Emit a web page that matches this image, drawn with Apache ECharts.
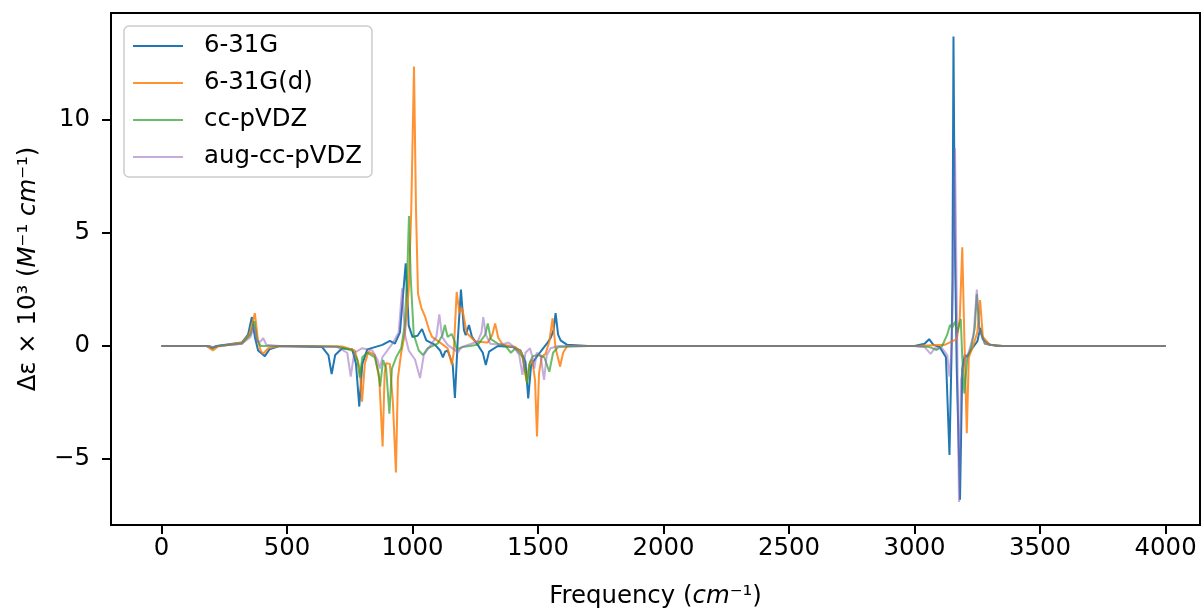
<!DOCTYPE html>
<html>
<head>
<meta charset="utf-8">
<script src="https://cdn.jsdelivr.net/npm/echarts@6/dist/echarts.min.js"></script>
<style>
  html, body { margin: 0; padding: 0; background: #fff; }
  #container { width: 1202px; height: 611px; }
</style>
</head>
<body>
<div id="container"></div>
<script>
// series names (legend)
var seriesNames = ['6-31G', '6-31G(d)', 'cc-pVDZ', 'aug-cc-pVDZ'];

// tick values
var xTicks = [0, 500, 1000, 1500, 2000, 2500, 3000, 3500, 4000];
var yTicks = [-5, 0, 5, 10];

// [frequency, delta eps] points
var basis631G = [
    [0, 0], [180, 0], [200, -0.1], [220, 0], [320, 0.15], [345, 0.5], [360, 1.28], [372, 0.4], [385, -0.2],
    [412, -0.45], [430, -0.15], [470, 0], [640, -0.05], [665, -0.4], [678, -1.24], [692, -0.4], [720, -0.1],
    [760, -0.15], [775, -0.8], [788, -2.68], [800, -0.8], [820, -0.15], [880, 0.05], [910, 0.23], [930, 0.1],
    [950, 0.6], [973, 3.66], [985, 0.9], [1000, 0.4], [1020, 0.45], [1038, 0.75], [1055, 0.25], [1090, 0.05],
    [1110, -0.2], [1121, -0.5], [1130, -0.25], [1140, -0.2], [1160, -0.8], [1169, -2.3], [1180, 0.2],
    [1193, 2.5], [1205, 0.7], [1212, 0.48], [1225, 0.93], [1237, 0.4], [1260, 0.05], [1280, -0.3],
    [1292, -0.84], [1305, -0.25], [1340, 0], [1400, -0.05], [1430, -0.2], [1450, -0.7], [1461, -2.32],
    [1472, -0.9], [1481, -0.7], [1488, -0.75], [1500, -0.4], [1515, -0.18], [1535, 0.1], [1550, 0.35],
    [1562, 0.7], [1570, 1.45], [1580, 0.5], [1590, 0.25], [1616, 0.05], [1700, 0], [3000, 0], [3040, 0.1],
    [3058, 0.3], [3075, 0.05], [3100, -0.05], [3125, -0.5], [3139, -4.82], [3147, -0.5], [3151, 3],
    [3155, 13.69], [3160, 5], [3168, -1], [3181, -6.8], [3190, -1], [3200, -0.4], [3210, -0.47], [3230, -0.1],
    [3250, 0.2], [3262, 0.8], [3272, 0.3], [3300, 0.05], [3350, 0], [4000, 0]
];

var basis631Gd = [
    [0, 0], [180, 0], [205, -0.2], [225, -0.02], [320, 0.15], [350, 0.5], [372, 1.45], [385, 0.2], [395, -0.2],
    [405, -0.35], [425, -0.1], [470, 0], [720, -0.02], [770, -0.2], [790, -1.0], [799, -2.46], [810, -0.8],
    [824, -0.25], [850, -0.4], [868, -1.5], [881, -4.45], [889, -1.2], [895, -0.76], [910, -0.8], [922, -2.5],
    [934, -5.6], [942, -1.4], [955, -0.3], [970, 0.57], [985, 2.5], [995, 6], [1006, 12.36], [1014, 6],
    [1022, 2.3], [1035, 1.7], [1050, 1.3], [1065, 0.75], [1078, 0.4], [1110, 0.15], [1140, -0.1],
    [1157, -0.84], [1164, -0.3], [1176, 2.39], [1187, 1.46], [1198, 1.68], [1216, 0.57], [1250, 0.2],
    [1300, 0.15], [1318, 0.5], [1329, 1.0], [1342, 0.35], [1360, 0.05], [1410, -0.05], [1435, -0.3],
    [1455, -1.6], [1465, -0.8], [1477, -0.62], [1488, -1.5], [1496, -4.0], [1504, -1.2], [1515, -0.47],
    [1530, -0.35], [1545, 0.2], [1558, 1.22], [1570, -0.1], [1588, -0.91], [1600, -0.3], [1616, 0],
    [1700, 0], [3000, 0], [3120, 0.05], [3168, 0.3], [3180, 1.2], [3190, 4.37], [3198, 0.5], [3208, -3.86],
    [3216, -0.5], [3230, -0.1], [3250, 0.6], [3261, 2.03], [3272, 0.4], [3300, 0.05], [3350, 0], [4000, 0]
];

var basisCcPVDZ = [
    [0, 0], [190, 0], [205, -0.08], [225, 0], [320, 0.1], [355, 0.5], [370, 1.1], [380, 0.3], [395, 0],
    [470, 0], [700, -0.02], [760, -0.2], [780, -0.6], [790, -1.4], [800, -0.5], [820, -0.3], [850, -0.5],
    [865, -1.2], [871, -1.8], [883, -0.62], [895, -1.0], [908, -3.0], [918, -1.0], [935, -0.5], [955, -0.1],
    [970, 1.0], [980, 3.5], [986, 5.75], [993, 3], [1005, 0.5], [1025, -0.2], [1042, -0.4], [1060, -0.1],
    [1100, 0.1], [1120, 0.5], [1129, 0.93], [1140, 0.4], [1156, 0.53], [1168, 0.2], [1176, -0.15],
    [1200, -0.05], [1260, 0.05], [1290, 0.5], [1300, 1.0], [1312, 0.3], [1340, 0.1], [1370, 0],
    [1392, -0.3], [1410, -0.1], [1440, -0.5], [1457, -1.65], [1468, -0.7], [1480, -0.45], [1500, -0.4],
    [1525, -0.5], [1545, -1.14], [1560, -0.3], [1580, -0.05], [1700, 0], [3000, 0], [3060, -0.05],
    [3088, -0.18], [3110, 0], [3130, 0.5], [3141, 0.93], [3150, 0.8], [3161, 1.07], [3170, 0.6],
    [3184, 1.19], [3190, -0.5], [3198, -2.1], [3210, -0.5], [3225, -0.1], [3240, 0.8], [3248, 2.3],
    [3258, 0.8], [3280, 0.1], [3330, 0], [4000, 0]
];

var basisAugCcPVDZ = [
    [0, 0], [190, 0], [205, -0.05], [225, 0], [320, 0.1], [355, 0.4], [368, 0.9], [380, 0.2], [395, 0.2],
    [405, 0.35], [418, 0.05], [470, 0], [700, -0.05], [740, -0.3], [754, -1.35], [768, -0.3], [800, -0.1],
    [840, -0.2], [860, -0.6], [870, -1.0], [880, -0.5], [920, 0.1], [945, 0.6], [959, 2.55], [970, 0.5],
    [985, -0.2], [1010, -0.6], [1030, -1.42], [1045, -0.4], [1070, 0], [1095, 0.4], [1107, 1.4],
    [1118, 0.4], [1140, 0.05], [1165, -0.15], [1180, -0.3], [1195, -0.05], [1260, 0.2], [1275, 0.6],
    [1282, 1.28], [1292, 0.5], [1310, 0.1], [1350, 0.05], [1382, 0.15], [1400, 0], [1425, -0.4],
    [1438, -1.28], [1450, -0.3], [1468, -0.1], [1478, -0.5], [1485, -1.0], [1495, -0.3], [1510, -0.4],
    [1524, -1.5], [1535, -0.4], [1550, -0.1], [1580, 0], [3000, 0], [3040, -0.05], [3064, -0.35],
    [3080, -0.1], [3110, -0.1], [3130, -0.4], [3139, -1.36], [3148, 0], [3155, 3.5], [3161, 8.76],
    [3168, 2], [3172, -2], [3177, -6.9], [3185, -1.5], [3200, -0.6], [3215, -0.3], [3235, 0.5],
    [3248, 2.5], [3258, 0.7], [3280, 0.1], [3330, 0], [4000, 0]
];

var FONT = 'DejaVu Sans';
var FS = 24.4;
var colors = ['#1f77b4', '#ff7f0e', '#2ca02c', '#9467bd'];
var alphas = [1, 0.85, 0.7, 0.55];

function makeSeries(i, data) {
    return {
        name: seriesNames[i],
        type: 'line',
        data: data,
        symbol: 'none',
        showSymbol: false,
        color: colors[i],
        lineStyle: { width: 2, color: colors[i], opacity: alphas[i] }
    };
}

// legend items: plain line handle, same alpha as the curve
var legendItems = seriesNames.map(function (n, i) {
    return { name: n, itemStyle: { opacity: alphas[i] } };
});

var myChart = echarts.init(document.getElementById('container'));
var option = {
    animation: false,
    backgroundColor: '#fff',
    grid: {
        left: 111, right: 2, top: 13, bottom: 86,
        outerBoundsMode: 'none',
        show: true, borderColor: '#000', borderWidth: 2, backgroundColor: 'transparent'
    },
    legend: {
        data: legendItems,
        orient: 'vertical',
        left: 124, top: 26,
        icon: 'path://M0,0H50V2H0Z',
        itemWidth: 50, itemHeight: 24, itemGap: 13,
        padding: [8, 10, 8, 9],
        borderColor: '#cccccc', borderWidth: 1.5, borderRadius: 5,
        backgroundColor: 'rgba(255,255,255,0.8)',
        textStyle: { fontFamily: FONT, fontSize: FS, color: '#000', padding: [0, 0, 0, 16] }
    },
    xAxis: {
        type: 'value',
        min: -201, max: 4137,
        name: '{n|Frequency (}{i|cm}{n|⁻¹)}',
        nameLocation: 'middle',
        nameGap: 60,
        nameTextStyle: {
            rich: {
                n: { fontFamily: FONT, fontSize: FS, color: '#000' },
                i: { fontFamily: FONT, fontSize: FS, color: '#000', fontStyle: 'italic' }
            }
        },
        axisLine: { show: true, onZero: false, lineStyle: { color: '#000', width: 2 } },
        axisTick: { show: true, customValues: xTicks, length: 9, lineStyle: { color: '#000', width: 2 } },
        axisLabel: {
            customValues: xTicks, fontFamily: FONT, fontSize: FS, color: '#000', margin: 12,
            formatter: function (v) { return String(v); }
        },
        splitLine: { show: false }
    },
    yAxis: {
        type: 'value',
        min: -7.92, max: 14.73,
        name: '{n|Δε × 10³ (}{i|M}{n|⁻¹ }{i|cm}{n|⁻¹)}',
        nameLocation: 'middle',
        nameGap: 70,
        nameRotate: 90,
        nameTextStyle: {
            rich: {
                n: { fontFamily: FONT, fontSize: FS, color: '#000' },
                i: { fontFamily: FONT, fontSize: FS, color: '#000', fontStyle: 'italic' }
            }
        },
        axisLine: { show: true, onZero: false, lineStyle: { color: '#000', width: 2 } },
        axisTick: { show: true, customValues: yTicks, length: 9, lineStyle: { color: '#000', width: 2 } },
        axisLabel: {
            customValues: yTicks, fontFamily: FONT, fontSize: FS, color: '#000', margin: 21,
            formatter: function (v) { return String(v).replace('-', '\u2212'); }
        },
        splitLine: { show: false }
    },
    series: [
        makeSeries(0, basis631G),
        makeSeries(1, basis631Gd),
        makeSeries(2, basisCcPVDZ),
        makeSeries(3, basisAugCcPVDZ)
    ]
};
myChart.setOption(option);
</script>
</body>
</html>
